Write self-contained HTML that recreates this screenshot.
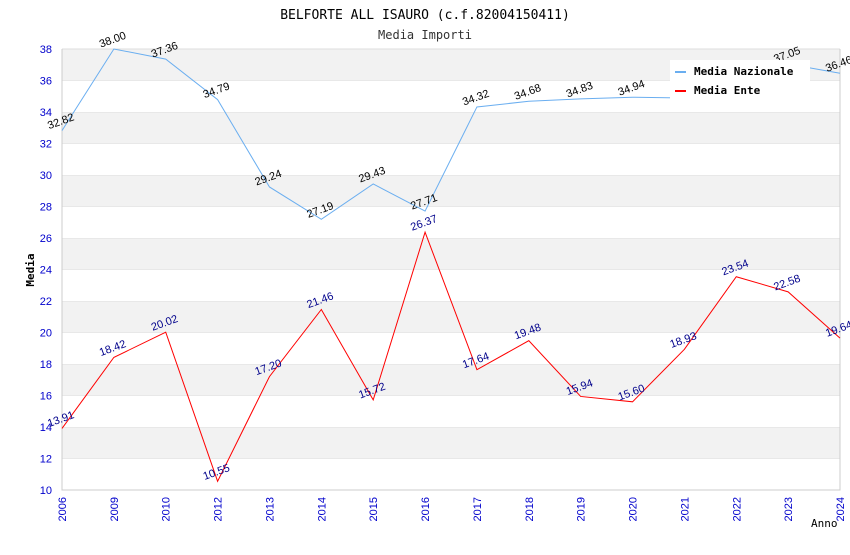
<!DOCTYPE html>
<html><head><meta charset="utf-8"><style>
body{margin:0;background:#fff;}
svg text{font-family:"DejaVu Sans Mono","Liberation Mono",monospace;}
svg text.sans{font-family:"Liberation Sans","DejaVu Sans",sans-serif;}
</style></head><body>
<svg id="c" width="850" height="550" xmlns="http://www.w3.org/2000/svg"></svg>
<script>
const categories=["2006","2009","2010","2012","2013","2014","2015","2016","2017","2018","2019","2020","2021","2022","2023","2024"];
const nazionale=[32.82,38.00,37.36,34.79,29.24,27.19,29.43,27.71,34.32,34.68,34.83,34.94,34.89,35.9,37.05,36.46];
const ente=[13.91,18.42,20.02,10.55,17.20,21.46,15.72,26.37,17.64,19.48,15.94,15.60,18.93,23.54,22.58,19.64];
const yTicks=[10,12,14,16,18,20,22,24,26,28,30,32,34,36,38];
const showNaz=[true,true,true,true,true,true,true,true,true,true,true,true,false,false,true,true];
const svg=document.getElementById('c');const NS="http://www.w3.org/2000/svg";
const L=62,R=840,T=49,B=490,ymin=10,ymax=38;
const x=i=>L+i*(R-L)/(categories.length-1);
const y=v=>B-(v-ymin)/(ymax-ymin)*(B-T);
function mk(t,a,p){const e=document.createElementNS(NS,t);for(const k in a)e.setAttribute(k,a[k]);(p||svg).appendChild(e);return e;}
const bands=mk('g',{});


for(let i=0;i<yTicks.length-1;i++){
 const r=mk('rect',{x:L,y:y(yTicks[i+1]),width:R-L,height:y(yTicks[i])-y(yTicks[i+1]),fill:(i%2==1)?'#f2f2f2':'#fff'},bands);
 
 
 mk('line',{x1:L,x2:R,y1:y(yTicks[i+1]),y2:y(yTicks[i+1]),stroke:'#ddd'},bands);
}
mk('polyline',{points:`${L},${T} ${L},${B} ${R},${B} ${R},${T}`,fill:'none',stroke:'#ccc'});
yTicks.forEach(v=>{const t=mk('text',{x:L-10,y:y(v)+4,'text-anchor':'end','font-size':11,fill:'#00c',class:'sans'});t.textContent=v;
 
 });
categories.forEach((c,i)=>{const t=mk('text',{transform:`translate(${x(i)+4},${B+7}) rotate(-90)`,'text-anchor':'end','font-size':11,fill:'#00c',class:'sans'});t.textContent=c;
 
 });
function series(vals,color,lblColor,name,show){
 const p=mk('polyline',{points:vals.map((v,i)=>x(i)+','+y(v)).join(' '),fill:'none',stroke:color,'stroke-width':1});
 
 
 vals.forEach((v,i)=>{if(show&&!show[i])return;const t=mk('text',{transform:`translate(${x(i)},${y(v)-6}) rotate(-20)`,'text-anchor':'middle','font-size':11,fill:lblColor,class:'sans'});t.textContent=v.toFixed(2);
  
  });
}
series(nazionale,'#6aaef0','#000','media-nazionale',showNaz);
series(ente,'#f00','#00008b','media-ente');
const lg=mk('g',{});


mk('rect',{x:670,y:60,width:140,height:46,fill:'#fff'},lg);
mk('line',{x1:675,x2:686,y1:72,y2:72,stroke:'#6aaef0','stroke-width':2},lg);
mk('line',{x1:675,x2:686,y1:91,y2:91,stroke:'#f00','stroke-width':2},lg);
let t=mk('text',{x:694,y:75,'font-size':11,'font-weight':'bold'},lg);t.textContent='Media Nazionale';
t=mk('text',{x:694,y:94,'font-size':11,'font-weight':'bold'},lg);t.textContent='Media Ente';
t=mk('text',{x:425,y:19,'text-anchor':'middle','font-size':13});t.textContent='BELFORTE ALL ISAURO (c.f.82004150411)';


t=mk('text',{x:425,y:39,'text-anchor':'middle','font-size':12,fill:'#333'});t.textContent='Media Importi';


t=mk('text',{transform:'translate(34,270) rotate(-90)','text-anchor':'middle','font-size':11,'font-weight':'bold'});t.textContent='Media';


t=mk('text',{x:811,y:527,'font-size':11});t.textContent='Anno';


</script>
</body></html>
